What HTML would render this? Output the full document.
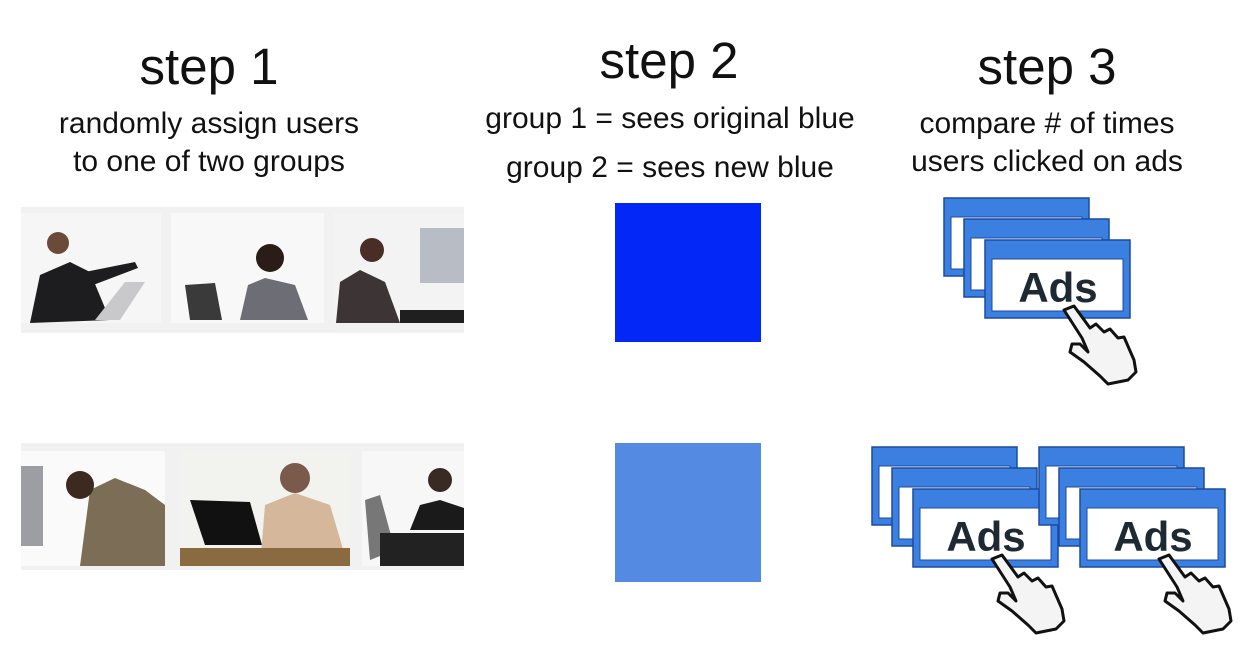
<!DOCTYPE html>
<html><head><meta charset="utf-8"><style>
html,body{margin:0;padding:0;background:#fff;}
body{width:1246px;height:662px;position:relative;overflow:hidden;font-family:"Liberation Sans",sans-serif;color:#111;}
.t{position:absolute;text-align:center;white-space:nowrap;}
.h{font-size:51px;}
.s{font-size:30px;line-height:38px;}
</style></head><body>
<div class="t h" style="left:59px;width:300px;top:37px;">step 1</div>
<div class="t s" style="left:9px;width:400px;top:105px;">randomly assign users<br>to one of two groups</div>
<div class="t h" style="left:519px;width:300px;top:31px;">step 2</div>
<div class="t s" style="left:420px;width:500px;top:100px;">group 1 = sees original blue</div>
<div class="t s" style="left:420px;width:500px;top:149px;">group 2 = sees new blue</div>
<div class="t h" style="left:897px;width:300px;top:37px;">step 3</div>
<div class="t s" style="left:847px;width:400px;top:105px;">compare # of times<br>users clicked on ads</div>

<div style="position:absolute;left:615px;top:203px;width:146px;height:139px;background:#0327f6"></div>
<div style="position:absolute;left:615px;top:443px;width:146px;height:139px;background:#548ae1"></div>

<svg style="position:absolute;left:0;top:0" width="1246" height="662">
<defs>
<g id="win">
<rect x="0" y="0" width="145" height="78" fill="#3b7fe0" stroke="#1d4a9e" stroke-width="1.5"/>
<rect x="7" y="19" width="131" height="52" fill="#fff" stroke="#1d4a9e" stroke-width="1"/>
</g>
<g id="hand">
<polygon points="0,0 10,-4 26,18 32,14 40,22 46,19 54,28 60,27 70,50 72,62 64,70 44,74 36,66 20,52 6,42 8,34 16,34 24,42 18,28" fill="#f4f4f4" stroke="#111" stroke-width="3" stroke-linejoin="round"/>
</g>
<g id="stack">
<use href="#win"/>
<use href="#win" x="20" y="21"/>
<use href="#win" x="41" y="42"/>
<text x="114" y="104" font-family="Liberation Sans,sans-serif" font-weight="bold" font-size="42" fill="#1e2a33" text-anchor="middle">Ads</text>
<use href="#hand" x="120" y="112"/>
</g>
</defs>
<rect x="21" y="207" width="443" height="126" fill="#f1f1f1"/>
<rect x="21" y="213" width="140" height="110" fill="#f6f6f6"/>
<rect x="171" y="213" width="153" height="110" fill="#f8f8f8"/>
<rect x="334" y="213" width="130" height="110" fill="#f3f3f3"/>
<path d="M30 323 L40 275 L70 262 L90 272 L110 320 Z" fill="#1d1d1f"/>
<circle cx="58" cy="243" r="11" fill="#6b4a3a"/>
<path d="M70 275 L135 262 L138 268 L80 290 Z" fill="#1d1d1f"/>
<path d="M95 320 L125 282 L145 282 L120 320 Z" fill="#c9c9cc"/>
<path d="M185 285 L215 283 L222 320 L190 320 Z" fill="#3a3a3a"/>
<path d="M240 320 L248 285 L265 278 L295 285 L308 320 Z" fill="#6d6d75"/>
<circle cx="270" cy="258" r="14" fill="#2a1c16"/>
<path d="M336 323 L340 282 L360 270 L385 282 L400 323 Z" fill="#3d3535"/>
<circle cx="372" cy="250" r="12" fill="#4a2e26"/>
<rect x="420" y="228" width="44" height="55" fill="#b8bcc4"/>
<rect x="400" y="310" width="64" height="13" fill="#1f1f1f"/>

<rect x="21" y="443" width="443" height="127" fill="#f1f1f1"/>
<rect x="21" y="451" width="144" height="115" fill="#fafafa"/>
<rect x="180" y="451" width="170" height="115" fill="#f2f2ee"/>
<rect x="362" y="451" width="102" height="115" fill="#f7f7f7"/>
<rect x="21" y="466" width="22" height="80" fill="#9c9ea3"/>
<path d="M80 566 L90 490 L115 478 L145 490 L165 505 L165 566 Z" fill="#7c6d57"/>
<circle cx="80" cy="485" r="14" fill="#3c2a20"/>
<path d="M190 500 L250 502 L262 545 L205 545 Z" fill="#111"/>
<path d="M260 566 L265 505 L295 493 L330 505 L348 566 Z" fill="#d5b89c"/>
<circle cx="295" cy="478" r="15" fill="#7a5a4a"/>
<rect x="180" y="548" width="170" height="18" fill="#8a6a40"/>
<path d="M365 500 L380 495 L395 550 L370 560 Z" fill="#777"/>
<rect x="380" y="533" width="84" height="33" fill="#222"/>
<path d="M410 530 L420 505 L440 500 L464 508 L464 530 Z" fill="#1a1a1a"/>
<circle cx="440" cy="480" r="12" fill="#3a2a24"/>

<use href="#stack" x="944" y="198"/>
<use href="#stack" x="872" y="447"/>
<use href="#stack" x="1039" y="447"/>
</svg>
</body></html>
